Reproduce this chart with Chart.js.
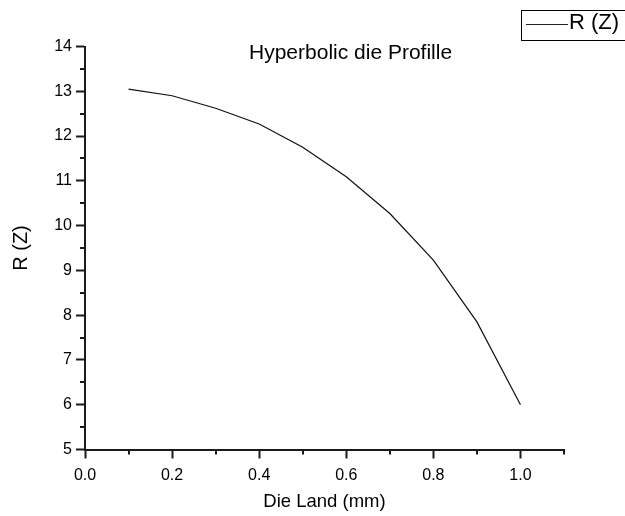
<!DOCTYPE html>
<html>
<head>
<meta charset="utf-8">
<script src="https://cdn.jsdelivr.net/npm/chart.js@4.4.0/dist/chart.umd.min.js"></script>
<style>
  html, body { margin: 0; padding: 0; background: #fff; overflow: hidden; }
  #wrap { position: relative; width: 625px; height: 516px; overflow: hidden; }
  #chart { position: absolute; left: 0; top: 0; }
  .txt { position: absolute; font-family: Arial, 'Liberation Sans', sans-serif; color: #000; white-space: nowrap; line-height: 1; }
  #title { left: 249px; top: 41px; font-size: 21px; }
  #legend { position: absolute; left: 521px; top: 10px; width: 112px; height: 31px; border: 1px solid #000; box-sizing: border-box; background: #fff; }
  #legendLine { position: absolute; left: 4px; top: 13px; width: 42px; height: 1px; background: #222; }
  #legendText { left: 47px; top: 0px; font-size: 22px; }
</style>
</head>
<body>
<div id="wrap">
  <canvas id="chart" width="625" height="516"></canvas>
  <div id="title" class="txt">Hyperbolic die Profille</div>
  <div id="legend"><div id="legendLine"></div><div id="legendText" class="txt"></div></div>
</div>
<script>
// Die land positions (mm) and profile radius
const dieLand = [0.1, 0.2, 0.3, 0.4, 0.5, 0.6, 0.7, 0.8, 0.9, 1.0];
const radius = [13.05, 12.9, 12.62, 12.27, 11.75, 11.09, 10.27, 9.23, 7.85, 6.0];
const seriesName = 'R (Z)';

const axisColor = '#1a1a1a';
const fontFamily = "Arial, 'Liberation Sans', sans-serif";

// majors carry labels, minors are the short in-between ticks
function isMajorX(v) { return Math.round(v * 10) % 2 === 0; }
function isMajorY(v) { return Math.abs(v - Math.round(v)) < 1e-6; }

// short minor ticks, Origin style
const minorTicks = {
    id: 'minorTicks',
    afterDraw(chart) {
        const ctx = chart.ctx;
        const xs = chart.scales.x, ys = chart.scales.y;
        ctx.save();
        ctx.strokeStyle = axisColor;
        ctx.lineWidth = 2;
        xs.ticks.forEach(t => {
            if (isMajorX(t.value)) return;
            const px = Math.round(xs.getPixelForValue(t.value));
            ctx.beginPath();
            ctx.moveTo(px, xs.top);
            ctx.lineTo(px, xs.top + 5);
            ctx.stroke();
        });
        ys.ticks.forEach(t => {
            if (isMajorY(t.value)) return;
            const py = Math.round(ys.getPixelForValue(t.value));
            ctx.beginPath();
            ctx.moveTo(ys.right, py);
            ctx.lineTo(ys.right - 5, py);
            ctx.stroke();
        });
        ctx.restore();
    }
};

const points = dieLand.map((x, i) => ({ x: x, y: radius[i] }));

const chart = new Chart(document.getElementById('chart').getContext('2d'), {
    type: 'line',
    data: {
        datasets: [{
            label: seriesName,
            data: points,
            borderColor: '#111',
            borderWidth: 1.2,
            pointRadius: 0,
            fill: false,
            tension: 0
        }]
    },
    options: {
        responsive: false,
        animation: false,
        layout: { padding: { top: 46.5, right: 61, left: 0, bottom: 0 } },
        plugins: {
            legend: { display: false },
            title: { display: false },
            tooltip: { enabled: false }
        },
        scales: {
            x: {
                type: 'linear',
                min: 0,
                max: 1.1,
                border: { display: true, color: axisColor, width: 2 },
                grid: {
                    drawOnChartArea: false,
                    drawTicks: true,
                    tickLength: 9,
                    tickWidth: 2,
                    tickColor: ctx => isMajorX(ctx.tick.value) ? axisColor : 'rgba(0,0,0,0)'
                },
                ticks: {
                    stepSize: 0.1,
                    padding: 7,
                    color: '#000',
                    maxRotation: 0,
                    autoSkip: false,
                    font: { family: fontFamily, size: 16 },
                    callback: v => isMajorX(v) ? v.toFixed(1) : ''
                },
                title: {
                    display: true,
                    text: 'Die Land (mm)',
                    color: '#000',
                    font: { family: fontFamily, size: 18.5 },
                    padding: { top: 0, bottom: 2.5 }
                },
                afterFit: scale => { scale.height = 66.5; }
            },
            y: {
                type: 'linear',
                min: 5,
                max: 14,
                border: { display: true, color: axisColor, width: 2 },
                grid: {
                    drawOnChartArea: false,
                    drawTicks: true,
                    tickLength: 9,
                    tickWidth: 2,
                    tickColor: ctx => isMajorY(ctx.tick.value) ? axisColor : 'rgba(0,0,0,0)'
                },
                ticks: {
                    stepSize: 0.5,
                    padding: 4,
                    color: '#000',
                    autoSkip: false,
                    font: { family: fontFamily, size: 16 },
                    callback: v => isMajorY(v) ? String(Math.round(v)) : ''
                },
                title: {
                    display: true,
                    text: 'R (Z)',
                    color: '#000',
                    font: { family: fontFamily, size: 20 },
                    padding: { top: 9, bottom: 0 }
                },
                afterFit: scale => { scale.width = 85; }
            }
        }
    },
    plugins: [minorTicks]
});

document.getElementById('legendText').textContent = chart.data.datasets[0].label;
</script>
</body>
</html>
